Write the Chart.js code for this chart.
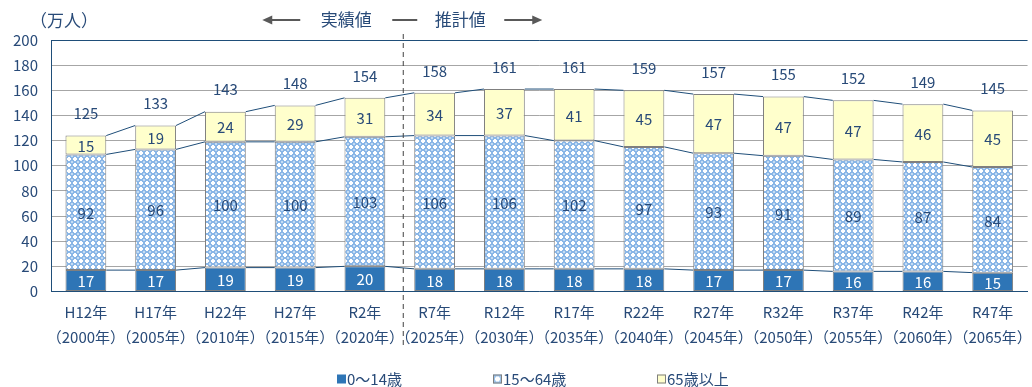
<!DOCTYPE html>
<html lang="ja">
<head>
<meta charset="utf-8">
<script src="https://cdn.jsdelivr.net/npm/chart.js@4/dist/chart.umd.min.js"></script>
<style>
  html, body { margin: 0; padding: 0; background: #fff; overflow: hidden; }
  #wrap { position: relative; width: 1040px; height: 387px; }
</style>
</head>
<body>
<div id="wrap"><canvas id="popChart"></canvas></div>
<script>
// ---------- Data ----------
const eras = ["H12年", "H17年", "H22年", "H27年", "R2年", "R7年", "R12年", "R17年", "R22年", "R27年", "R32年", "R37年", "R42年", "R47年"];
const years = [2000, 2005, 2010, 2015, 2020, 2025, 2030, 2035, 2040, 2045, 2050, 2055, 2060, 2065];
const age0to14 = [17, 17, 19, 19, 20, 18, 18, 18, 18, 17, 17, 16, 16, 15];
const age15to64 = [92, 96, 100, 100, 103, 106, 106, 102, 97, 93, 91, 89, 87, 84];
const age65plus = [15, 19, 24, 29, 31, 34, 37, 41, 45, 47, 47, 47, 46, 45];
const totals = [125, 133, 143, 148, 154, 158, 161, 161, 159, 157, 155, 152, 149, 145];
const yTicks = [0, 20, 40, 60, 80, 100, 120, 140, 160, 180, 200];
const seriesNames = ["0～14歳", "15～64歳", "65歳以上"];
const actualLastIndex = 4; // R2 is the last actual value

const TEXT = "#284a78";
const FONT = '"Noto Sans CJK JP", "Noto Sans", sans-serif';
Chart.defaults.font.family = FONT;
Chart.defaults.color = TEXT;

// ---------- Helpers ----------
function makePattern() {
  const c = document.createElement("canvas");
  c.width = 6; c.height = 6;
  const g = c.getContext("2d");
  g.fillStyle = "#8ab6e6";
  g.fillRect(0, 0, 6, 6);
  g.fillStyle = "#ffffff";
  g.fillRect(2, 1, 2, 4);
  g.fillRect(1, 2, 4, 2);
  g.fillStyle = "#c4dcf4";
  g.fillRect(0, 0, 1, 1); g.fillRect(5, 5, 1, 1); g.fillRect(5, 0, 1, 1); g.fillRect(0, 5, 1, 1);
  return g.createPattern(c, "repeat");
}
const workPattern = makePattern();
const fills = ["#2e75b6", workPattern, "#ffffcc"];

// ---------- Plugins ----------
const seriesLines = {
  id: "seriesLines",
  beforeDatasetsDraw(chart) {
    const ctx = chart.ctx;
    ctx.save();
    ctx.strokeStyle = "#1f4e79";
    ctx.lineWidth = 1;
    chart.data.datasets.forEach((ds, d) => {
      const bars = chart.getDatasetMeta(d).data;
      for (let i = 0; i < bars.length - 1; i++) {
        const a = bars[i], b = bars[i + 1];
        ctx.beginPath();
        ctx.moveTo(a.x + a.width / 2, a.y);
        ctx.lineTo(b.x - b.width / 2, b.y);
        ctx.stroke();
      }
    });
    ctx.restore();
  }
};

const labelsAndNotes = {
  id: "labelsAndNotes",
  afterDatasetsDraw(chart) {
    const ctx = chart.ctx;
    const x = chart.scales.x;
    ctx.save();
    ctx.textAlign = "center";
    ctx.textBaseline = "middle";
    ctx.font = "15px " + FONT;

    // values inside the segments
    chart.data.datasets.forEach((ds, d) => {
      const bars = chart.getDatasetMeta(d).data;
      ctx.fillStyle = d === 0 ? "#ffffff" : TEXT;
      bars.forEach((bar, i) => {
        ctx.fillText(ds.data[i], bar.x, (bar.y + bar.base) / 2 + 1);
      });
    });

    // totals above the bars
    ctx.fillStyle = TEXT;
    const top = chart.getDatasetMeta(chart.data.datasets.length - 1).data;
    top.forEach((bar, i) => {
      ctx.fillText(totals[i], bar.x, bar.y - 22);
    });

    // divider between actual and projected
    const xd = x.getPixelForValue(actualLastIndex + 0.55);
    ctx.strokeStyle = "#404040";
    ctx.lineWidth = 1;
    ctx.setLineDash([5, 4]);
    ctx.beginPath();
    ctx.moveTo(xd, 34);
    ctx.lineTo(xd, 346);
    ctx.stroke();
    ctx.setLineDash([]);

    // annotation: ← 実績値 — 推計値 →
    const ay = 20;
    ctx.strokeStyle = "#595959";
    ctx.fillStyle = "#595959";
    ctx.lineWidth = 2;
    const line = (x1, x2) => { ctx.beginPath(); ctx.moveTo(x1, ay); ctx.lineTo(x2, ay); ctx.stroke(); };
    line(xd - 134, xd - 103);
    line(xd - 11, xd + 14);
    line(xd + 101, xd + 132);
    ctx.beginPath();
    ctx.moveTo(xd - 141, ay); ctx.lineTo(xd - 131, ay - 4.5); ctx.lineTo(xd - 131, ay + 4.5); ctx.closePath(); ctx.fill();
    ctx.beginPath();
    ctx.moveTo(xd + 139, ay); ctx.lineTo(xd + 129, ay - 4.5); ctx.lineTo(xd + 129, ay + 4.5); ctx.closePath(); ctx.fill();
    ctx.fillStyle = TEXT;
    ctx.font = "17px " + FONT;
    ctx.fillText("実績値", xd - 57, ay);
    ctx.fillText("推計値", xd + 57, ay);

    // unit label
    ctx.textAlign = "left";
    ctx.font = "17px " + FONT;
    ctx.fillText("（万人）", 30, 21);

    // legend
    ctx.font = "15px " + FONT;
    const ly = 379;
    const lx = [337, 493, 657];
    seriesNames.forEach((name, d) => {
      ctx.fillStyle = d === 1 ? "#9cc3ea" : fills[d];
      ctx.fillRect(lx[d], ly - 4.5, 9, 9);
      if (d === 1) {
        ctx.fillStyle = "#ffffff";
        ctx.fillRect(lx[d] + 3, ly - 2.5, 3, 5);
        ctx.fillRect(lx[d] + 2, ly - 1.5, 5, 3);
      }
      if (d > 0) {
        ctx.strokeStyle = "#7f7f7f";
        ctx.lineWidth = 1;
        ctx.strokeRect(lx[d] + 0.5, ly - 4, 8, 8);
      }
      ctx.fillStyle = TEXT;
      ctx.fillText(name, lx[d] + 10, ly);
    });
    ctx.restore();
  }
};

// ---------- Chart ----------
const categories = eras.map((e, i) => [e, "（" + years[i] + "年）"]);
const seriesValues = [age0to14, age15to64, age65plus];

new Chart(document.getElementById("popChart"), {
  type: "bar",
  data: {
    labels: categories,
    datasets: seriesValues.map((vals, d) => ({
      label: seriesNames[d],
      data: vals,
      backgroundColor: fills[d],
      borderColor: "#7f7f7f",
      borderWidth: 1,
      borderSkipped: false,
      barPercentage: 0.585,
      categoryPercentage: 1
    }))
  },
  options: {
    responsive: true,
    maintainAspectRatio: false,
    animation: false,
    layout: { padding: { top: 40, right: 5, bottom: 28.5, left: 0 } },
    plugins: { legend: { display: false }, tooltip: { enabled: false } },
    scales: {
      x: {
        stacked: true,
        grid: { display: false, drawTicks: false },
        border: { color: "#1f4e79", width: 1 },
        ticks: { font: { size: 15, lineHeight: 1.7 }, color: TEXT, padding: 8, maxRotation: 0, autoSkip: false }
      },
      y: {
        stacked: true,
        min: 0,
        max: 200,
        afterBuildTicks(scale) { scale.ticks = yTicks.map(v => ({ value: v })); },
        afterFit(scale) { scale.width = 51; },
        grid: {
          drawTicks: false,
          color: ctx => (ctx.tick && ctx.tick.value === 200 ? "#1f4e79" : "#a6a6a6")
        },
        border: { color: "#1f4e79", width: 1 },
        ticks: { font: { size: 15 }, color: TEXT, padding: 13 }
      }
    }
  },
  plugins: [seriesLines, labelsAndNotes]
});
</script>
</body>
</html>
